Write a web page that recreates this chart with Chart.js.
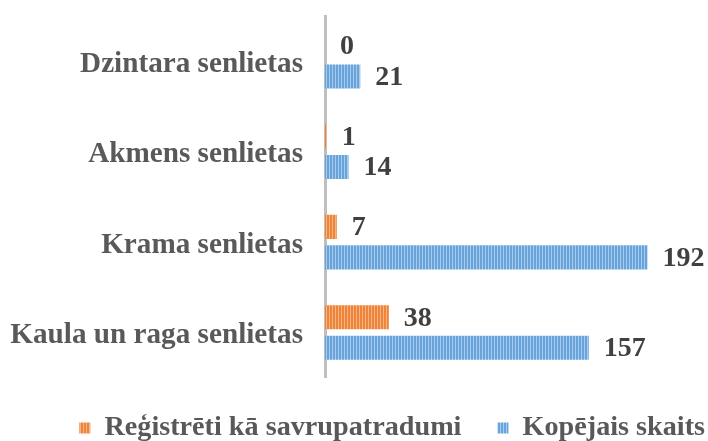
<!DOCTYPE html>
<html>
<head>
<meta charset="utf-8">
<script src="https://cdn.jsdelivr.net/npm/chart.js@4"></script>
<style>
  html, body { margin: 0; padding: 0; background: #ffffff; }
  #wrap { width: 708px; height: 441px; }
</style>
</head>
<body>
<div id="wrap"><canvas id="c" width="708" height="441"></canvas></div>
<script>
const categories = ["Dzintara senlietas", "Akmens senlietas", "Krama senlietas", "Kaula un raga senlietas"];
const seriesNames = ["Reģistrēti kā savrupatradumi", "Kopējais skaits"];
const registered = [0, 1, 7, 38];
const total = [21, 14, 192, 157];

function stripes(base, light) {
  const cv = document.createElement('canvas');
  cv.width = 3; cv.height = 4;
  const x = cv.getContext('2d');
  x.fillStyle = base; x.fillRect(0, 0, 3, 4);
  x.fillStyle = light; x.fillRect(2, 0, 1, 4);
  return x.createPattern(cv, 'repeat');
}
const orangeFill = stripes('#EE843A', '#F6B583');
const blueFill = stripes('#68A4DC', '#A9CCEE');

const FONT = "'Liberation Serif', 'Times New Roman', serif";

const valueLabels = {
  id: 'valueLabels',
  afterDatasetsDraw(chart) {
    const ctx = chart.ctx;
    ctx.save();
    ctx.font = "bold 28px " + FONT;
    ctx.fillStyle = '#404040';
    ctx.textAlign = 'left';
    ctx.textBaseline = 'middle';
    chart.data.datasets.forEach((ds, i) => {
      const meta = chart.getDatasetMeta(i);
      meta.data.forEach((el, j) => {
        ctx.fillText(String(ds.data[j]), el.x + 15, el.y + 1);
      });
    });
    ctx.restore();
  }
};

const legendShift = {
  id: 'legendShift',
  afterLayout(chart) {
    if (chart.legend) {
      chart.legend.left += 38;
      chart.legend.right += 38;
    }
  }
};

new Chart(document.getElementById('c'), {
  type: 'bar',
  data: {
    labels: categories,
    datasets: [
      { label: seriesNames[0], data: registered, backgroundColor: orangeFill, borderWidth: 0,
        categoryPercentage: 0.674, barPercentage: 0.79 },
      { label: seriesNames[1], data: total, backgroundColor: blueFill, borderWidth: 0,
        categoryPercentage: 0.674, barPercentage: 0.79 }
    ]
  },
  options: {
    indexAxis: 'y',
    responsive: false,
    animation: false,
    devicePixelRatio: 1,
    layout: { padding: { top: 16, right: 5, bottom: -11, left: 0 } },
    scales: {
      x: {
        min: 0, max: 225,
        display: true,
        grid: { display: false, drawTicks: false },
        border: { display: false },
        ticks: { display: false },
        afterFit: s => { s.height = 0; }
      },
      y: {
        grid: { display: false, drawTicks: false },
        border: { display: true, color: '#BFBFBF', width: 3 },
        ticks: { color: '#595959', font: { family: FONT, size: 29.2, weight: 'bold' }, padding: 22, labelOffset: 3 },
        afterFit: s => { s.width = 325; s.paddingTop = 0; s.paddingBottom = 0; }
      }
    },
    plugins: {
      legend: {
        position: 'bottom',
        align: 'end',
        labels: {
          color: '#595959',
          font: { family: FONT, size: 28.2, weight: 'bold' },
          boxWidth: 11, boxHeight: 11, padding: 36
        }
      },
      tooltip: { enabled: false }
    }
  },
  plugins: [valueLabels, legendShift]
});
</script>
</body>
</html>
